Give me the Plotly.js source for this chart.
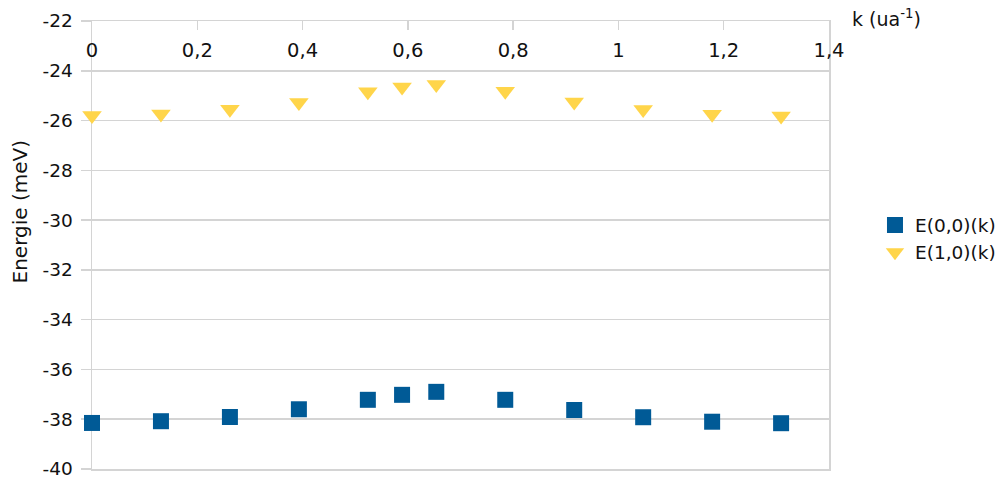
<!DOCTYPE html>
<html>
<head>
<meta charset="utf-8">
<script src="https://cdn.plot.ly/plotly-3.0.1.min.js"></script>
<style>html,body{margin:0;padding:0;background:#fff;}#chart{width:1004px;height:484px;}</style>
</head>
<body>
<div id="chart"></div>
<script>
// k values (ua^-1)
const kValues = [0, 0.131, 0.262, 0.393, 0.524, 0.589, 0.654, 0.785, 0.916, 1.047, 1.178, 1.309];
// E(0,0)(k) in meV
const e00 = [-38.15, -38.08, -37.91, -37.60, -37.22, -37.02, -36.90, -37.22, -37.63, -37.92, -38.10, -38.16];
// E(1,0)(k) in meV
const e10 = [-25.80, -25.74, -25.55, -25.27, -24.84, -24.65, -24.55, -24.82, -25.25, -25.56, -25.75, -25.82];

const seriesNames = ["E(0,0)(k)", "E(1,0)(k)"];
const xTickVals = [0, 0.2, 0.4, 0.6, 0.8, 1, 1.2, 1.4];
const xTickText = ["0", "0,2", "0,4", "0,6", "0,8", "1", "1,2", "1,4"];
const yTickVals = [-40, -38, -36, -34, -32, -30, -28, -26, -24, -22];
const yTickText = ["-40", "-38", "-36", "-34", "-32", "-30", "-28", "-26", "-24", "-22"];
const xTitle = "k (ua<sup>-1</sup>)";
const yTitle = "Energie (meV)";

const wideFont = "DejaVu Sans, Verdana, sans-serif";
const txtCol = "#111111";
const gridCol = "#d4d4d4";

const traces = [
  {x: kValues, y: e00, name: seriesNames[0], type: "scatter", mode: "markers", cliponaxis: false,
   marker: {symbol: "square", size: 16, color: "#005a96"}},
  {x: kValues, y: e10, name: seriesNames[1], type: "scatter", mode: "markers", cliponaxis: false,
   marker: {symbol: "triangle-down", size: 17, color: "#ffd54a"}},
  // carrier for the tick-label axis (invisible)
  {x: kValues, y: e00, xaxis: "x2", type: "scatter", mode: "markers", showlegend: false,
   hoverinfo: "skip", marker: {opacity: 0}}
];

const layout = {
  width: 1004, height: 484,
  margin: {l: 92, r: 175, t: 21, b: 15, autoexpand: false},
  paper_bgcolor: "#fff", plot_bgcolor: "#fff",
  font: {family: wideFont, size: 18.5, color: txtCol},
  showlegend: true,
  legend: {xref: "container", yref: "container", x: 0.8715, xanchor: "left", y: 0.506, yanchor: "middle",
           font: {family: wideFont, size: 18.5, color: txtCol}, bgcolor: "rgba(0,0,0,0)"},
  xaxis: {
    side: "top", range: [0, 1.4], tickvals: xTickVals, showticklabels: false,
    ticks: "inside", ticklen: 9, tickcolor: gridCol, tickwidth: 1.5, layer: "below traces",
    showgrid: false, zeroline: false, showline: true, linecolor: gridCol, linewidth: 1.5, mirror: true
  },
  xaxis2: {
    overlaying: "x", matches: "x", anchor: "free", position: 0.965, side: "bottom",
    range: [0, 1.4], tickvals: xTickVals, ticktext: xTickText, ticks: "",
    showgrid: false, zeroline: false, showline: false, layer: "below traces",
    tickfont: {family: wideFont, size: 19.5, color: txtCol}
  },
  yaxis: {
    range: [-40, -22], tickvals: yTickVals, ticktext: yTickText,
    ticks: "outside", ticklen: 10, tickcolor: gridCol, tickwidth: 1.5, layer: "below traces",
    ticklabelstandoff: 4,
    showgrid: true, gridcolor: gridCol, gridwidth: 1.5, zeroline: false,
    showline: true, linecolor: gridCol, linewidth: 1.5, mirror: true,
    tickfont: {family: wideFont, size: 18.5, color: txtCol}
  },
  annotations: [
    {text: xTitle, xref: "paper", yref: "paper", x: 1.0285, y: 1.0067, xanchor: "left", yanchor: "middle",
     showarrow: false, font: {family: wideFont, size: 19, color: txtCol}},
    {text: yTitle, xref: "paper", yref: "paper", x: -0.0977, y: 0.5748, xanchor: "center", yanchor: "middle",
     textangle: -90, showarrow: false, font: {family: wideFont, size: 20, color: txtCol}}
  ]
};

Plotly.newPlot("chart", traces, layout, {displayModeBar: false, staticPlot: true});
</script>
</body>
</html>
